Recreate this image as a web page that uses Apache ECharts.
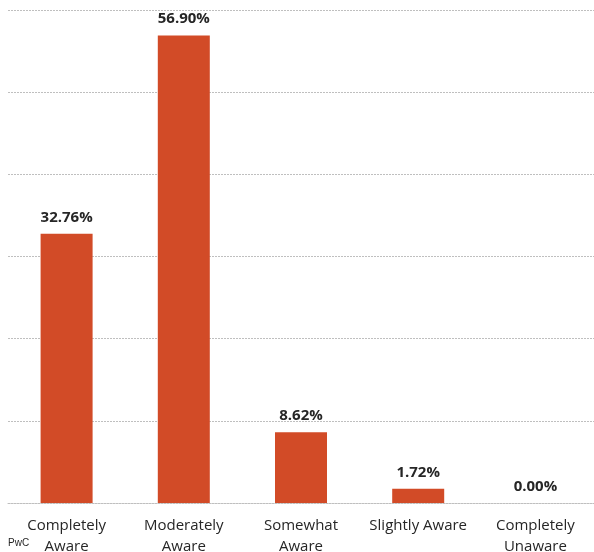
<!DOCTYPE html>
<html>
<head>
<meta charset="utf-8">
<script src="https://cdn.jsdelivr.net/npm/echarts@6/dist/echarts.min.js"></script>
<style>
  html, body { margin: 0; padding: 0; background: #fff; }
  #chart { width: 594px; height: 552px; }
</style>
</head>
<body>
<div id="chart"></div>
<script>
// Awareness levels and share of respondents (%)
const categories = ['Completely\nAware', 'Moderately\nAware', 'Somewhat\nAware', 'Slightly Aware', 'Completely\nUnaware'];
const values = [32.76, 56.90, 8.62, 1.72, 0.00];
const sourceNote = 'PwC';

const chart = echarts.init(document.getElementById('chart'), null, { renderer: 'canvas' });

chart.setOption({
  animation: false,
  grid: { left: 8, right: 0, top: 10, bottom: 49, containLabel: false, outerBoundsMode: 'none' },
  xAxis: {
    type: 'category',
    data: categories,
    axisLine: { show: true, lineStyle: { color: '#bfbfbf', type: [2, 1], width: 1 } },
    axisTick: { show: false },
    axisLabel: {
      interval: 0,
      color: '#262626',
      fontFamily: 'Open Sans, Liberation Sans, sans-serif',
      fontSize: 15,
      lineHeight: 21,
      margin: 12
    }
  },
  yAxis: {
    type: 'value',
    min: 0,
    max: 60,
    interval: 10,
    axisLine: { show: false },
    axisTick: { show: false },
    axisLabel: { show: false },
    splitLine: { show: true, lineStyle: { color: '#bfbfbf', type: [2, 1], width: 1 } }
  },
  series: [{
    type: 'bar',
    data: values,
    barWidth: 52,
    itemStyle: { color: '#D24B27' },
    label: {
      show: true,
      position: 'top',
      distance: 9,
      formatter: p => p.value.toFixed(2) + '%',
      color: '#262626',
      fontFamily: 'Open Sans, Liberation Sans, sans-serif',
      fontWeight: 'bold',
      fontSize: 15
    }
  }],
  graphic: [{
    type: 'text',
    left: 8,
    top: 538,
    style: {
      text: sourceNote,
      fill: '#262626',
      font: '10px Liberation Sans, sans-serif'
    }
  }]
});
</script>
</body>
</html>
